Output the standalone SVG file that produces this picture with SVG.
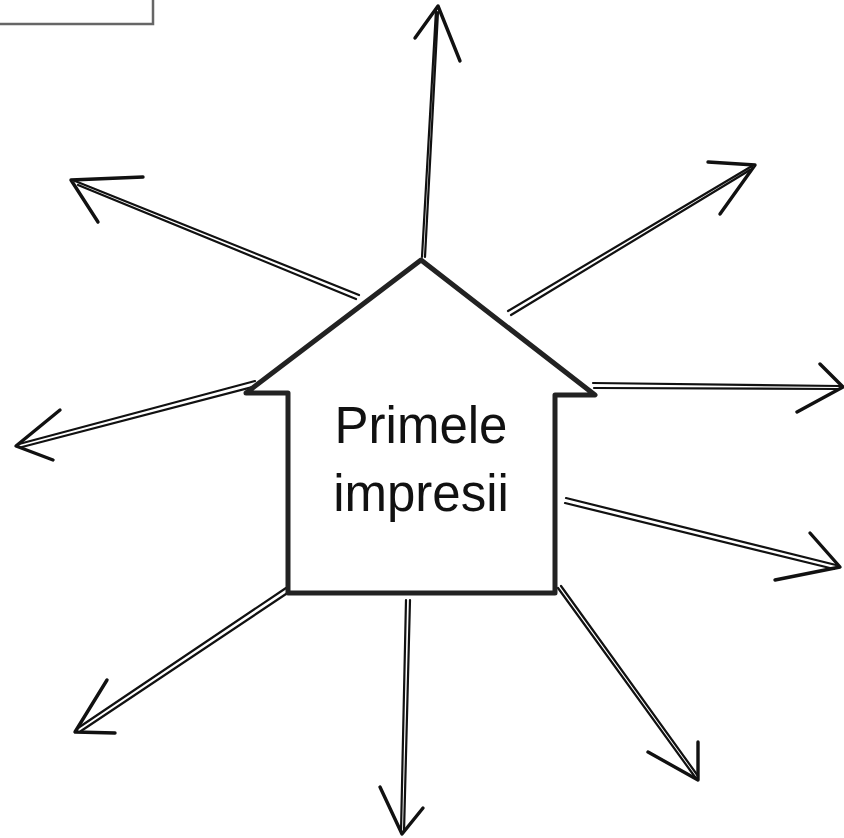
<svg xmlns="http://www.w3.org/2000/svg" width="844" height="838" viewBox="0 0 844 838">
<style>
.sh{fill:none;stroke:#111;stroke-width:2.2;stroke-linecap:round;stroke-linejoin:round}
.hd{fill:none;stroke:#111;stroke-width:3.4;stroke-linecap:round;stroke-linejoin:round}
.house{fill:#fff;stroke:#222;stroke-width:5;stroke-linejoin:round}
.lbl{font-family:"Liberation Sans","DejaVu Sans",sans-serif;font-size:51px;fill:#111;text-anchor:middle}
</style>
<rect width="844" height="838" fill="#fff"/>
<g id="corner-box">
<rect x="-6" y="-6" width="159" height="30" fill="#fff" stroke="#666" stroke-width="2.5"/>
</g>
<g id="connectors">
<path class="sh" d="M422 257 L436 10 M425 257 L438 12"/>
<path class="hd" d="M415 38 L438 6 L460 61"/>
<path class="sh" d="M359 295 L75 181 M356 299 L78 185"/>
<path class="hd" d="M143 177 L71 180 L98 222"/>
<path class="sh" d="M508 311 L752 166 M511 315 L750 170"/>
<path class="hd" d="M708 162 L755 165 L720 214"/>
<path class="sh" d="M255 381 L19 444 M256 386 L22 447"/>
<path class="hd" d="M60 410 L16 446 L53 460"/>
<path class="sh" d="M593 383 L840 386 M594 388 L838 389"/>
<path class="hd" d="M820 364 L843 387 L797 412"/>
<path class="sh" d="M566 498 L836 565 M565 503 L834 569"/>
<path class="hd" d="M810 533 L840 567 L775 580"/>
<path class="sh" d="M286 588 L78 728 M289 592 L81 731"/>
<path class="hd" d="M107 680 L75 732 L115 733"/>
<path class="sh" d="M406 600 L401 832 M410 600 L404 832"/>
<path class="hd" d="M380 787 L402 834 L423 808"/>
<path class="sh" d="M558 588 L695 777 M561 586 L698 776"/>
<path class="hd" d="M698 742 L698 780 L648 752"/>
</g>
<g id="house">
<path class="house" d="M421 260 L595 395 L555 395 L555 593 L288 593 L288 393 L246 393 Z"/>
<text class="lbl" x="421" y="443">Primele</text>
<text class="lbl" x="421" y="511">impresii</text>
</g>
</svg>
